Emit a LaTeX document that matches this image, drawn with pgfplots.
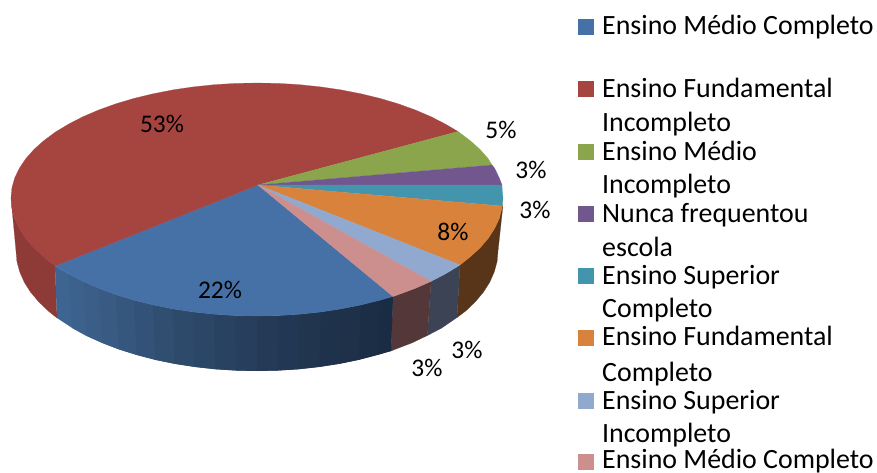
\documentclass[border=0pt]{standalone}
\usepackage{pgfplots}
\pgfplotsset{compat=1.18}
\usepackage{fontspec}
\setmainfont{Carlito}
\definecolor{cblue}{RGB}{69,113,166}
\definecolor{cred}{RGB}{166,68,64}
\definecolor{cgreen}{RGB}{138,165,76}
\definecolor{cpurple}{RGB}{114,87,143}
\definecolor{cteal}{RGB}{66,149,173}
\definecolor{corange}{RGB}{217,130,59}
\definecolor{clblue}{RGB}{146,169,207}
\definecolor{cpink}{RGB}{205,143,142}
\definecolor{sred}{RGB}{142,58,54}
\definecolor{sorange}{RGB}{88,53,25}
\definecolor{slblue}{RGB}{60,67,85}
\definecolor{spink}{RGB}{84,55,56}
\definecolor{b1}{RGB}{62,100,146}
\definecolor{b2}{RGB}{60,97,141}
\definecolor{b3}{RGB}{58,94,136}
\definecolor{b4}{RGB}{56,90,131}
\definecolor{b5}{RGB}{53,86,125}
\definecolor{b6}{RGB}{51,82,119}
\definecolor{b7}{RGB}{48,78,112}
\definecolor{b8}{RGB}{45,74,107}
\definecolor{b9}{RGB}{43,70,102}
\definecolor{b10}{RGB}{41,66,97}
\definecolor{b11}{RGB}{39,62,92}
\definecolor{b12}{RGB}{36,58,87}
\definecolor{b13}{RGB}{34,55,83}
\definecolor{b14}{RGB}{33,53,79}
\definecolor{b15}{RGB}{31,50,76}
\definecolor{b16}{RGB}{30,49,73}
\definecolor{b17}{RGB}{28,46,70}
\definecolor{b18}{RGB}{26,44,67}
\tikzset{
  lab/.style={anchor=base, inner sep=0pt, font=\fontsize{25.5}{30}\selectfont},
  leg/.style={anchor=base west, inner sep=0pt, font=\fontsize{28}{32}\selectfont},
}
\begin{document}
\begin{tikzpicture}
\begin{axis}[
  scale only axis, width=877bp, height=473bp,
  xmin=0, xmax=877, ymin=0, ymax=473, y dir=reverse,
  hide axis, clip=false, no marks,
]
\addplot[draw=none, forget plot] coordinates {(0,0)(877,473)};
% sides
\addplot[fill=sred, draw=sred, line width=.2pt] coordinates {(55,266)(44,257)(34,247.9)(25.8,238.4)(19.4,228.5)(14.7,218.5)(11.9,208.3)(11,198)(16,251)(16.9,261.5)(19.7,271.8)(24.2,282.1)(30.5,292)(38.6,301.7)(48.3,311)(57,318)} --cycle;
\addplot[fill=sorange, draw=sorange, line width=.2pt] coordinates {(502.4,206)(499.3,218.5)(494.6,228.5)(488.2,238.4)(480,247.9)(470,257)(460,265)(457,317.5)(465.7,311)(475.4,301.7)(483.5,292)(489.8,282.1)(494.3,271.8)(497.1,261.5)(498,251)(502.9,206)} --cycle;
\addplot[fill=slblue, draw=slblue, line width=.2pt] coordinates {(460,265)(445.4,273.9)(431,281.4)(427.4,335.5)(441.6,328.1)(457,317.5)} --cycle;
\addplot[fill=spink, draw=spink, line width=.2pt] coordinates {(431,281.4)(415.1,288.4)(398.1,294.7)(393,296.5)(391,351)(395.2,349.3)(411.9,342.9)(427.4,335.5)} --cycle;
% blue side, in overlapping bands from left to right
\addplot[fill=b1, draw=none] coordinates {(55,266)(68.6,273.9)(83,281.4)(86.6,335.9)(72.4,328.1)(57,318)} --cycle;
\addplot[fill=b2, draw=none] coordinates {(68.6,273.9)(83,281.4)(98.9,288.4)(102.1,342.9)(86.6,335.9)(72.4,328.1)} --cycle;
\addplot[fill=b3, draw=none] coordinates {(83,281.4)(98.9,288.4)(115.9,294.7)(118.8,349.3)(102.1,342.9)(86.6,335.9)} --cycle;
\addplot[fill=b4, draw=none] coordinates {(98.9,288.4)(115.9,294.7)(134,300.2)(136.5,354.9)(118.8,349.3)(102.1,342.9)} --cycle;
\addplot[fill=b5, draw=none] coordinates {(115.9,294.7)(134,300.2)(153,304.9)(155.2,359.8)(136.5,354.9)(118.8,349.3)} --cycle;
\addplot[fill=b6, draw=none] coordinates {(134,300.2)(153,304.9)(172.9,308.9)(174.6,363.8)(155.2,359.8)(136.5,354.9)} --cycle;
\addplot[fill=b7, draw=none] coordinates {(153,304.9)(172.9,308.9)(193.3,312)(194.6,366.9)(174.6,363.8)(155.2,359.8)} --cycle;
\addplot[fill=b8, draw=none] coordinates {(172.9,308.9)(193.3,312)(214.3,314.2)(215.2,369.2)(194.6,366.9)(174.6,363.8)} --cycle;
\addplot[fill=b9, draw=none] coordinates {(193.3,312)(214.3,314.2)(235.5,315.6)(236,370.5)(215.2,369.2)(194.6,366.9)} --cycle;
\addplot[fill=b10, draw=none] coordinates {(214.3,314.2)(235.5,315.6)(257,316)(257,371)(236,370.5)(215.2,369.2)} --cycle;
\addplot[fill=b11, draw=none] coordinates {(235.5,315.6)(257,316)(278.5,315.6)(278,370.5)(257,371)(236,370.5)} --cycle;
\addplot[fill=b12, draw=none] coordinates {(257,316)(278.5,315.6)(299.7,314.2)(298.8,369.2)(278,370.5)(257,371)} --cycle;
\addplot[fill=b13, draw=none] coordinates {(278.5,315.6)(299.7,314.2)(320.7,312)(319.4,366.9)(298.8,369.2)(278,370.5)} --cycle;
\addplot[fill=b14, draw=none] coordinates {(299.7,314.2)(320.7,312)(341.1,308.9)(339.4,363.8)(319.4,366.9)(298.8,369.2)} --cycle;
\addplot[fill=b15, draw=none] coordinates {(320.7,312)(341.1,308.9)(361,304.9)(358.8,359.8)(339.4,363.8)(319.4,366.9)} --cycle;
\addplot[fill=b16, draw=none] coordinates {(341.1,308.9)(361,304.9)(380,300.2)(377.5,354.9)(358.8,359.8)(339.4,363.8)} --cycle;
\addplot[fill=b17, draw=none] coordinates {(361,304.9)(380,300.2)(393,296.5)(391,351)(377.5,354.9)(358.8,359.8)} --cycle;
\addplot[fill=b18, draw=none] coordinates {(380,300.2)(393,296.5)(391,351)(377.5,354.9)} --cycle;
% top faces
\addplot[fill=cblue, draw=cblue, line width=.2pt] coordinates {(258,185)(393,296.5)(380,300.2)(361,304.9)(341.1,308.9)(320.7,312)(299.7,314.2)(278.5,315.6)(257,316)(235.5,315.6)(214.3,314.2)(193.3,312)(172.9,308.9)(153,304.9)(134,300.2)(115.9,294.7)(98.9,288.4)(83,281.4)(68.6,273.9)(55,266)} --cycle;
\addplot[fill=cred, draw=cred, line width=.2pt] coordinates {(258,185)(55,266)(44,257)(34,247.9)(25.8,238.4)(19.4,228.5)(14.7,218.5)(11.9,208.3)(11,198)(11.9,188)(14.7,178)(19.4,168.2)(25.8,158.7)(34,149.4)(44,140.5)(55.5,132)(68.6,124.1)(83,116.7)(98.9,109.9)(115.9,103.8)(134,98.4)(153,93.8)(172.9,89.9)(193.3,86.9)(214.3,84.7)(235.5,83.4)(257,83)(278.5,83.4)(299.7,84.7)(320.7,86.9)(341.1,89.9)(361,93.8)(380,98.4)(398.1,103.8)(415.1,109.9)(431,116.7)(445.4,124.1)(458,131.5)} --cycle;
\addplot[fill=cgreen, draw=cgreen, line width=.2pt] coordinates {(258,185)(458,131.5)(470,140.5)(480,149.4)(488.2,158.7)(492,165)} --cycle;
\addplot[fill=cpurple, draw=cpurple, line width=.2pt] coordinates {(258,185)(492,165)(494.6,168.2)(499.3,178)(502,185)} --cycle;
\addplot[fill=cteal, draw=cteal, line width=.2pt] coordinates {(258,185)(502,185)(502.1,188)(503,198)(502.4,206)} --cycle;
\addplot[fill=corange, draw=corange, line width=.2pt] coordinates {(258,185)(502.4,206)(499.3,218.5)(494.6,228.5)(488.2,238.4)(480,247.9)(470,257)(460,265)} --cycle;
\addplot[fill=clblue, draw=clblue, line width=.2pt] coordinates {(258,185)(460,265)(445.4,273.9)(431,281.4)} --cycle;
\addplot[fill=cpink, draw=cpink, line width=.2pt] coordinates {(258,185)(431,281.4)(415.1,288.4)(398.1,294.7)(393,296.5)} --cycle;
% data labels
\node[lab] at (axis cs:162,132) {53\%};
\node[lab] at (axis cs:220,298) {22\%};
\node[lab] at (axis cs:453,240) {8\%};
\node[lab] at (axis cs:501,138) {5\%};
\node[lab] at (axis cs:531,178) {3\%};
\node[lab] at (axis cs:535,218) {3\%};
\node[lab] at (axis cs:467,358) {3\%};
\node[lab] at (axis cs:427,376) {3\%};
% legend
\addplot[fill=cblue, draw=none] coordinates {(578,19)(594,19)(594,35)(578,35)} --cycle;
\addplot[fill=cred, draw=none] coordinates {(578,81)(594,81)(594,97)(578,97)} --cycle;
\addplot[fill=cgreen, draw=none] coordinates {(578,144)(594,144)(594,160)(578,160)} --cycle;
\addplot[fill=cpurple, draw=none] coordinates {(578,206)(594,206)(594,222)(578,222)} --cycle;
\addplot[fill=cteal, draw=none] coordinates {(578,268)(594,268)(594,284)(578,284)} --cycle;
\addplot[fill=corange, draw=none] coordinates {(578,330)(594,330)(594,346)(578,346)} --cycle;
\addplot[fill=clblue, draw=none] coordinates {(578,393)(594,393)(594,409)(578,409)} --cycle;
\addplot[fill=cpink, draw=none] coordinates {(578,454)(594,454)(594,470)(578,470)} --cycle;
\node[leg] at (axis cs:602,35) {Ensino Médio Completo};
\node[leg] at (axis cs:602,97) {Ensino Fundamental};
\node[leg] at (axis cs:602,131) {Incompleto};
\node[leg] at (axis cs:602,160) {Ensino Médio};
\node[leg] at (axis cs:602,193) {Incompleto};
\node[leg] at (axis cs:602,222) {Nunca frequentou};
\node[leg] at (axis cs:602,256) {escola};
\node[leg] at (axis cs:602,284) {Ensino Superior};
\node[leg] at (axis cs:602,317) {Completo};
\node[leg] at (axis cs:602,345) {Ensino Fundamental};
\node[leg] at (axis cs:602,381) {Completo};
\node[leg] at (axis cs:602,409) {Ensino Superior};
\node[leg] at (axis cs:602,442) {Incompleto};
\node[leg] at (axis cs:602,468) {Ensino Médio Completo};
\end{axis}
\end{tikzpicture}
\end{document}
